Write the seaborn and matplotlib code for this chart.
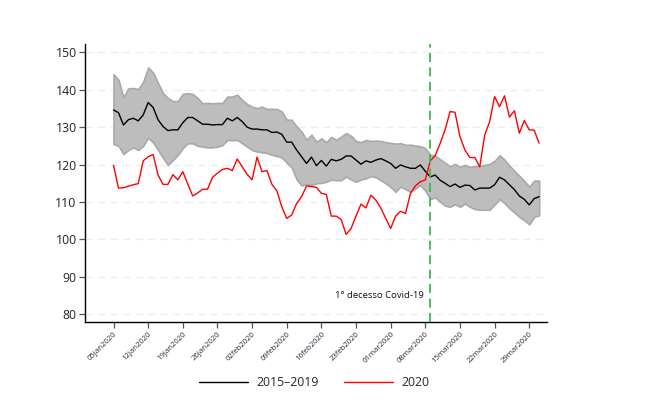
import numpy as np
import pandas as pd
import matplotlib
matplotlib.use("Agg")
import matplotlib.pyplot as plt
import matplotlib.dates as mdates
import seaborn as sns
from matplotlib.lines import Line2D

start_date = "2020-01-05"
n_days = 87

mean_1519 = [134.6, 133.9, 130.6, 132.0, 132.4, 131.7, 133.3, 136.6, 135.3, 132.0,
             130.2, 129.1, 129.3, 129.3, 131.2, 132.6, 132.6, 131.7, 130.8, 130.8,
             130.6, 130.7, 130.7, 132.4, 131.7, 132.6, 131.5, 130.0, 129.5, 129.5,
             129.3, 129.3, 128.6, 128.7, 128.1, 126.0, 126.0, 123.9, 122.1, 120.3,
             122.0, 119.7, 121.1, 119.6, 121.4, 121.0, 121.4, 122.3, 122.3, 121.2,
             120.1, 121.0, 120.6, 121.2, 121.6, 121.0, 120.3, 119.0, 119.9, 119.4,
             119.0, 119.0, 119.9, 118.2, 116.7, 117.2, 115.8, 115.0, 114.1, 114.8,
             113.9, 114.5, 114.4, 113.2, 113.7, 113.7, 113.7, 114.6, 116.6, 115.9,
             114.6, 113.3, 111.6, 110.7, 109.2, 110.9, 111.4]

upper_1519 = [144.2, 142.7, 138.0, 140.4, 140.5, 140.2, 142.2, 146.0, 144.6, 141.8,
              139.1, 137.8, 137.0, 137.0, 138.9, 139.1, 138.9, 137.8, 136.4, 136.5,
              136.4, 136.5, 136.5, 138.2, 138.2, 138.7, 137.3, 136.2, 135.5, 135.1,
              135.5, 134.9, 134.9, 134.9, 134.2, 132.0, 132.0, 130.2, 128.8, 126.6,
              128.0, 126.1, 127.0, 126.0, 127.4, 126.6, 127.5, 128.4, 127.7, 126.3,
              126.0, 126.6, 126.3, 126.4, 126.3, 126.0, 125.8, 125.6, 125.7, 125.3,
              125.3, 125.1, 124.9, 124.4, 122.6, 122.4, 121.4, 120.5, 119.5, 120.2,
              119.4, 119.9, 119.4, 119.6, 119.6, 119.9, 120.2, 121.0, 122.5, 121.3,
              119.7, 118.3, 117.0, 115.6, 114.1, 115.7, 115.7]

lower_1519 = [125.5, 125.0, 122.8, 123.9, 124.6, 123.9, 125.0, 127.2, 125.9, 123.9,
              121.8, 119.9, 121.2, 122.6, 124.4, 125.7, 125.7, 125.0, 124.8, 124.6,
              124.6, 124.8, 125.2, 126.6, 126.5, 126.6, 125.7, 124.8, 123.9, 123.5,
              123.3, 123.1, 122.6, 122.3, 121.9, 120.5, 119.2, 116.0, 114.4, 114.8,
              114.5, 115.0, 115.1, 115.4, 116.0, 115.8, 115.8, 116.8, 116.0, 115.4,
              116.0, 116.3, 116.9, 116.6, 115.8, 115.0, 114.0, 112.7, 114.1, 113.4,
              112.7, 113.6, 114.5, 113.0, 110.8, 111.2, 110.0, 109.0, 108.7, 109.4,
              108.7, 109.6, 108.7, 108.1, 107.9, 107.9, 107.9, 109.3, 110.8, 109.7,
              108.3, 107.2, 106.0, 105.1, 104.0, 106.0, 106.4]

values_2020 = [119.8, 113.7, 113.8, 114.2, 114.6, 114.9, 121.0, 122.1, 122.7, 117.2,
               114.7, 114.7, 117.3, 115.9, 118.1, 114.8, 111.6, 112.4, 113.4, 113.4,
               116.6, 117.7, 118.7, 119.0, 118.4, 121.5, 119.4, 117.4, 115.9, 122.0,
               118.1, 118.4, 114.7, 113.0, 108.7, 105.6, 106.5, 109.6, 111.4, 114.3,
               114.1, 113.9, 112.3, 112.0, 106.2, 106.2, 105.3, 101.3, 102.9, 106.2,
               109.4, 108.4, 111.8, 110.5, 108.4, 105.6, 102.9, 106.2, 107.5, 106.9,
               112.3, 114.3, 115.4, 115.9, 121.0, 122.4, 125.7, 129.3, 134.2, 134.0,
               127.5, 123.9, 121.9, 121.9, 119.4, 127.9, 131.5, 138.2, 135.5, 138.4,
               132.7, 134.4, 128.4, 131.8, 129.3, 129.2, 125.7]

tick_dates = ["2020-01-05", "2020-01-12", "2020-01-19", "2020-01-26", "2020-02-02",
              "2020-02-09", "2020-02-16", "2020-02-23", "2020-03-01", "2020-03-08",
              "2020-03-15", "2020-03-22", "2020-03-29"]
tick_labels = ["05jan2020", "12jan2020", "19jan2020", "26jan2020", "02feb2020",
               "09feb2020", "16feb2020", "23feb2020", "01mar2020", "08mar2020",
               "15mar2020", "22mar2020", "29mar2020"]
y_ticks = [80, 90, 100, 110, 120, 130, 140, 150]
event_date = "2020-03-09"
event_label = "1° decesso Covid-19"
series_names = ["2015–2019", "2020"]

sns.set_theme(style="white")
plt.rcParams['font.family'] = ['Open Sans', 'DejaVu Sans']

dates = pd.date_range(start_date, periods=n_days, freq="D")
df = pd.DataFrame({
    "date": np.concatenate([dates, dates]),
    "value": np.concatenate([mean_1519, values_2020]),
    "serie": [series_names[0]] * n_days + [series_names[1]] * n_days,
})

fig = plt.figure(figsize=(6.63, 4.18), dpi=100)
ax = fig.add_axes([0.128, 0.230, 0.697, 0.665])

for yv in y_ticks:
    ax.axhline(yv, color="#e6eeee", lw=0.9, ls=(0, (6, 4)), zorder=0)

ax.fill_between(dates, lower_1519, upper_1519, facecolor="#bdbdbd",
                edgecolor="#a9a9a9", lw=1.2, zorder=1)

sns.lineplot(data=df, x="date", y="value", hue="serie",
             palette={series_names[0]: "black", series_names[1]: "#ff0000"},
             lw=1.0, ax=ax, legend=False, zorder=3)

ev = pd.Timestamp(event_date)
ax.axvline(ev, color="#3cb94a", lw=1.3, ls=(0, (5, 3)), zorder=4)
ax.text(ev - pd.Timedelta(days=1.3), 85.0, event_label, ha="right", va="center",
        fontsize=6.8, color="#111111")

ax.set_xlim(pd.Timestamp("2019-12-30") + pd.Timedelta(hours=5),
            pd.Timestamp("2020-04-01") + pd.Timedelta(hours=14))
ax.set_ylim(77.9, 152.3)
ax.set_yticks(y_ticks)
ax.set_yticklabels([str(v) for v in y_ticks], fontsize=8.8, color="#222222")
ax.set_xticks(pd.to_datetime(tick_dates))
ax.set_xticklabels(tick_labels, rotation=45, ha="right", rotation_mode="anchor",
                   fontsize=5.6, color="#2a2a3a")
ax.tick_params(axis="both", which="major", length=4, width=0.9, color="#555555",
               direction="out", bottom=True, left=True, pad=2)
ax.set_xlabel("")
ax.set_ylabel("")
for s in ["top", "right"]:
    ax.spines[s].set_visible(False)
for s in ["left", "bottom"]:
    ax.spines[s].set_color("black")
    ax.spines[s].set_linewidth(1.0)

handles = [Line2D([], [], color="black", lw=1.0), Line2D([], [], color="#ff0000", lw=1.0)]
fig.legend(handles, series_names, loc="center", bbox_to_anchor=(0.474, 0.085),
           ncol=2, frameon=False, fontsize=8.8, handlelength=4.0,
           handletextpad=0.7, columnspacing=2.0)

fig.savefig("out.png", dpi=100)
